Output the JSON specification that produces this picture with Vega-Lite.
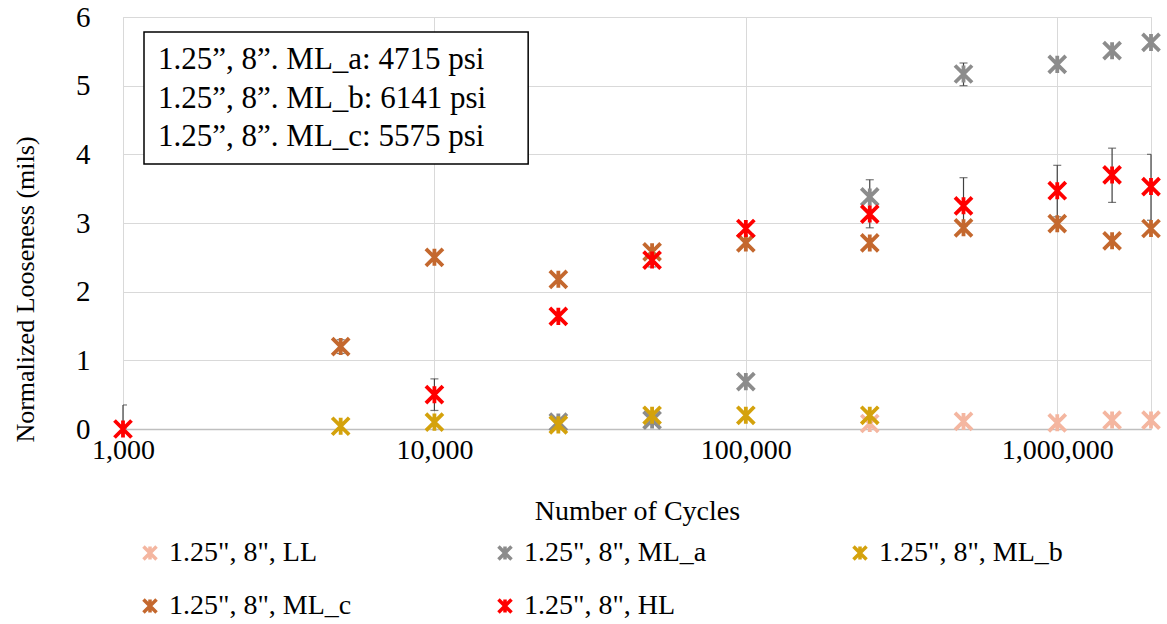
{
  "$schema": "https://vega.github.io/schema/vega-lite/v6.json",
  "width": 1028,
  "height": 412,
  "autosize": "none",
  "padding": {"left": 123, "top": 17, "right": 16, "bottom": 195},
  "background": "white",
  "config": {
    "font": "Liberation Serif",
    "text": {"font": "Liberation Serif"},
    "view": {"stroke": "#D9D9D9", "strokeWidth": 1},
    "axis": {
      "labelFont": "Liberation Serif",
      "titleFont": "Liberation Serif",
      "labelColor": "#000000",
      "titleColor": "#000000",
      "titleFontWeight": "normal",
      "gridColor": "#D9D9D9",
      "gridWidth": 1,
      "ticks": false,
      "domain": false
    },
    "legend": {
      "labelFont": "Liberation Serif",
      "labelColor": "#000000"
    }
  },
  "datasets": {
    "pts": [
      {"series": "LL", "cycles": 250000, "val": 0.08},
      {"series": "LL", "cycles": 500000, "val": 0.11},
      {"series": "LL", "cycles": 1000000, "val": 0.09},
      {"series": "LL", "cycles": 1500000, "val": 0.13},
      {"series": "LL", "cycles": 2000000, "val": 0.13},
      {"series": "ML_a", "cycles": 25000, "val": 0.1},
      {"series": "ML_a", "cycles": 50000, "val": 0.13},
      {"series": "ML_a", "cycles": 100000, "val": 0.69},
      {"series": "ML_a", "cycles": 250000, "val": 3.38},
      {"series": "ML_a", "cycles": 500000, "val": 5.17},
      {"series": "ML_a", "cycles": 1000000, "val": 5.31},
      {"series": "ML_a", "cycles": 1500000, "val": 5.51},
      {"series": "ML_a", "cycles": 2000000, "val": 5.63},
      {"series": "ML_b", "cycles": 5000, "val": 0.04},
      {"series": "ML_b", "cycles": 10000, "val": 0.1},
      {"series": "ML_b", "cycles": 25000, "val": 0.06},
      {"series": "ML_b", "cycles": 50000, "val": 0.2},
      {"series": "ML_b", "cycles": 100000, "val": 0.2},
      {"series": "ML_b", "cycles": 250000, "val": 0.2},
      {"series": "ML_c", "cycles": 5000, "val": 1.2},
      {"series": "ML_c", "cycles": 10000, "val": 2.5},
      {"series": "ML_c", "cycles": 25000, "val": 2.18},
      {"series": "ML_c", "cycles": 50000, "val": 2.58},
      {"series": "ML_c", "cycles": 100000, "val": 2.71},
      {"series": "ML_c", "cycles": 250000, "val": 2.71},
      {"series": "ML_c", "cycles": 500000, "val": 2.93},
      {"series": "ML_c", "cycles": 1000000, "val": 2.99},
      {"series": "ML_c", "cycles": 1500000, "val": 2.74},
      {"series": "ML_c", "cycles": 2000000, "val": 2.92},
      {"series": "HL", "cycles": 1000, "val": 0.0},
      {"series": "HL", "cycles": 10000, "val": 0.5},
      {"series": "HL", "cycles": 25000, "val": 1.64},
      {"series": "HL", "cycles": 50000, "val": 2.46},
      {"series": "HL", "cycles": 100000, "val": 2.92},
      {"series": "HL", "cycles": 250000, "val": 3.13},
      {"series": "HL", "cycles": 500000, "val": 3.25},
      {"series": "HL", "cycles": 1000000, "val": 3.47},
      {"series": "HL", "cycles": 1500000, "val": 3.7},
      {"series": "HL", "cycles": 2000000, "val": 3.53}
    ],
    "err": [
      {"series": "HL", "cycles": 1000, "val": 0.0, "hi": 0.35},
      {"series": "ML_c", "cycles": 5000, "val": 1.1, "hi": 1.3},
      {"series": "HL", "cycles": 10000, "val": 0.27, "hi": 0.73},
      {"series": "HL", "cycles": 25000, "val": 1.58, "hi": 1.7},
      {"series": "HL", "cycles": 50000, "val": 2.36, "hi": 2.56},
      {"series": "ML_a", "cycles": 250000, "val": 2.93, "hi": 3.63},
      {"series": "ML_a", "cycles": 500000, "val": 5.0, "hi": 5.33},
      {"series": "HL", "cycles": 500000, "val": 2.95, "hi": 3.66},
      {"series": "HL", "cycles": 1000000, "val": 3.09, "hi": 3.84},
      {"series": "HL", "cycles": 1500000, "val": 3.3, "hi": 4.09},
      {"series": "HL", "cycles": 2000000, "val": 3.04, "hi": 4.0}
    ]
  },
  "layer": [
    {
      "data": {"name": "err"},
      "mark": {"type": "rule", "color": "#404040", "strokeWidth": 1.2},
      "encoding": {
        "x": {
          "field": "cycles", "type": "quantitative",
          "scale": {"type": "log", "domain": [1000, 2000000], "nice": false},
          "axis": {"values": [1000, 10000, 100000, 1000000], "format": ",", "title": "Number of Cycles", "labelFont": "Liberation Serif", "titleFont": "Liberation Serif", "labelFontSize": 28, "titleFontSize": 28, "labelPadding": 7, "labelFlush": false, "labelOverlap": false, "grid": true, "titleY": 82, "titleBaseline": "middle", "domain": true, "domainColor": "#BFBFBF", "domainWidth": 1.5}
        },
        "y": {
          "field": "val", "type": "quantitative",
          "scale": {"domain": [0, 6], "nice": false},
          "axis": {"values": [0, 1, 2, 3, 4, 5, 6], "format": "d", "title": "Normalized Looseness (mils)", "labelFont": "Liberation Serif", "titleFont": "Liberation Serif", "labelFontSize": 29, "titleFontSize": 26, "labelPadding": 33, "labelFlush": false, "grid": true, "titleX": -98, "titleY": 272, "titleAlign": "center", "titleBaseline": "middle"}
        },
        "y2": {"field": "hi"}
      }
    },
    {
      "data": {"name": "err"},
      "mark": {"type": "tick", "orient": "horizontal", "color": "#404040", "thickness": 1.2, "size": 8, "clip": true},
      "encoding": {
        "x": {"field": "cycles", "type": "quantitative", "title": "Number of Cycles"},
        "y": {"field": "hi", "type": "quantitative", "title": "Normalized Looseness (mils)"}
      }
    },
    {
      "data": {"name": "err"},
      "mark": {"type": "tick", "orient": "horizontal", "color": "#404040", "thickness": 1.2, "size": 8, "clip": true},
      "encoding": {
        "x": {"field": "cycles", "type": "quantitative", "title": "Number of Cycles"},
        "y": {"field": "val", "type": "quantitative", "title": "Normalized Looseness (mils)"}
      }
    },
    {
      "data": {"name": "pts"},
      "mark": {"type": "point", "shape": "M-1,-1L1,1M-1,1L1,-1M0,-1L0,1", "filled": false, "strokeWidth": 3.8, "size": 290, "opacity": 1},
      "encoding": {
        "x": {"field": "cycles", "type": "quantitative", "title": "Number of Cycles"},
        "y": {"field": "val", "type": "quantitative", "title": "Normalized Looseness (mils)"},
        "color": {
          "field": "series", "type": "nominal",
          "scale": {"domain": ["LL", "ML_a", "ML_b", "ML_c", "HL"], "range": ["#F4B6A0", "#8C8C8C", "#D4A20C", "#C4682E", "#FF0000"]},
          "legend": {
            "title": null,
            "orient": "none",
            "legendX": 13,
            "legendY": 522,
            "columns": 3,
            "direction": "horizontal",
            "padding": 0,
            "labelFont": "Liberation Serif",
            "labelFontSize": 28,
            "labelLimit": 500,
            "labelExpr": "datum.label == 'LL' ? '1.25\", 8\", LL' : datum.label == 'ML_a' ? '1.25\", 8\", ML_a' : datum.label == 'ML_b' ? '1.25\", 8\", ML_b' : datum.label == 'ML_c' ? '1.25\", 8\", ML_c' : '1.25\", 8\", HL'",
            "symbolType": "M-1,-1L1,1M-1,1L1,-1M0,-1L0,1",
            "symbolSize": 170,
            "symbolStrokeWidth": 3.5,
            "labelOffset": 5,
            "columnPadding": 139,
            "rowPadding": 25
          }
        }
      }
    },
    {
      "data": {"values": [{}]},
      "mark": {"type": "rect", "fill": "white", "stroke": "#000000", "strokeWidth": 1.5},
      "encoding": {
        "x": {"datum": 1168},
        "x2": {"datum": 20000},
        "y": {"datum": 5.78},
        "y2": {"datum": 3.86}
      }
    },
    {
      "data": {"values": [{}]},
      "mark": {"type": "text", "align": "left", "baseline": "middle", "fontSize": 31, "font": "Liberation Serif", "color": "#000000", "lineHeight": 38.5,
        "text": ["1.25”, 8”. ML_a: 4715 psi", "1.25”, 8”. ML_b: 6141 psi", "1.25”, 8”. ML_c: 5575 psi"]},
      "encoding": {
        "x": {"datum": 1296},
        "y": {"datum": 5.37}
      }
    }
  ]
}
